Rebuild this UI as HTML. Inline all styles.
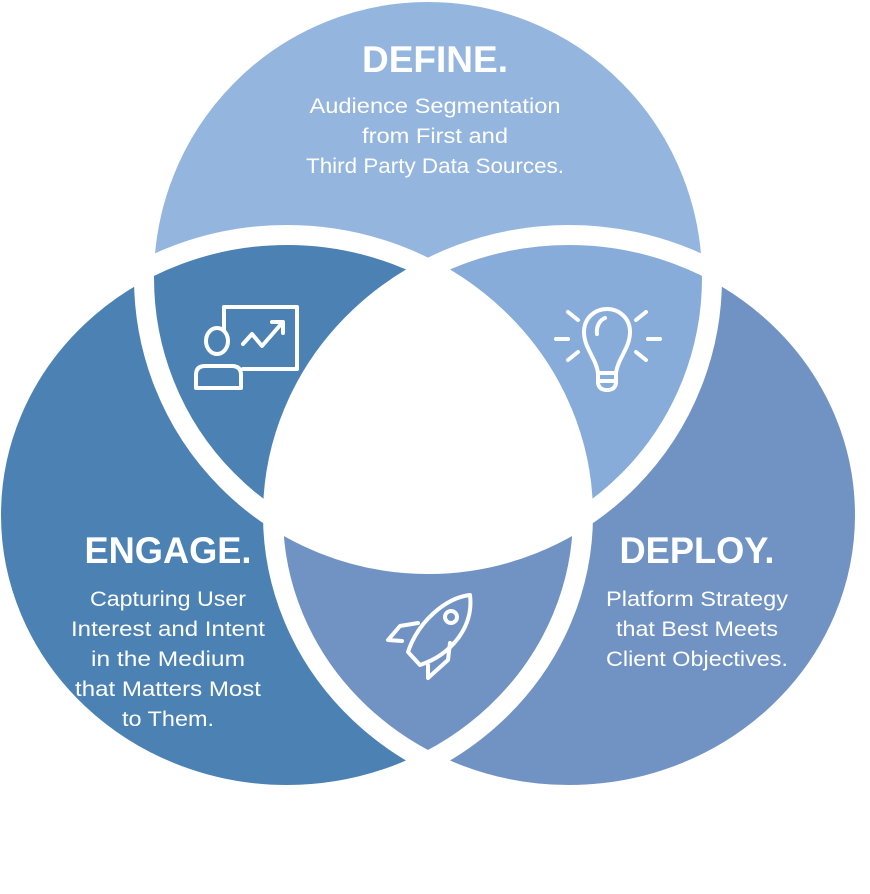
<!DOCTYPE html>
<html><head><meta charset="utf-8"><style>
html,body{margin:0;padding:0;background:#fff;}
svg{display:block;}
text{font-family:"Liberation Sans",sans-serif;fill:#fff;}
</style></head><body>
<svg width="870" height="894" viewBox="0 0 870 894" xmlns="http://www.w3.org/2000/svg">
<defs>
<clipPath id="cT"><ellipse cx="428" cy="278" rx="284" ry="286"/></clipPath>
<clipPath id="cL"><ellipse cx="287" cy="515" rx="296" ry="280"/></clipPath>
<clipPath id="cR"><ellipse cx="569" cy="515" rx="296" ry="280"/></clipPath>
</defs>
<ellipse cx="428" cy="278" rx="284" ry="286" fill="#94b6de"/>
<ellipse cx="287" cy="515" rx="296" ry="280" fill="#4b82b3"/>
<ellipse cx="569" cy="515" rx="296" ry="280" fill="#7193c3"/>
<g clip-path="url(#cT)"><ellipse cx="569" cy="515" rx="296" ry="280" fill="#88acd9"/></g>
<g clip-path="url(#cL)"><g clip-path="url(#cR)"><ellipse cx="428" cy="278" rx="284" ry="286" fill="#fff"/></g></g>
<g fill="none" stroke="#fff" stroke-width="20">
<ellipse cx="428" cy="278" rx="284" ry="286"/>
<ellipse cx="287" cy="515" rx="296" ry="280"/>
<ellipse cx="569" cy="515" rx="296" ry="280"/>
</g>

<text x="435" y="72" font-size="37" font-weight="bold" text-anchor="middle" textLength="146" lengthAdjust="spacingAndGlyphs">DEFINE.</text>
<g font-size="21" text-anchor="middle">
<text x="435" y="113" textLength="251" lengthAdjust="spacingAndGlyphs">Audience Segmentation</text>
<text x="435" y="143" textLength="146" lengthAdjust="spacingAndGlyphs">from First and</text>
<text x="435" y="173" textLength="258" lengthAdjust="spacingAndGlyphs">Third Party Data Sources.</text>
</g>

<text x="168" y="563" font-size="37" font-weight="bold" text-anchor="middle" textLength="167" lengthAdjust="spacingAndGlyphs">ENGAGE.</text>
<g font-size="21" text-anchor="middle">
<text x="168" y="606" textLength="156" lengthAdjust="spacingAndGlyphs">Capturing User</text>
<text x="168" y="636" textLength="194" lengthAdjust="spacingAndGlyphs">Interest and Intent</text>
<text x="168" y="666" textLength="154" lengthAdjust="spacingAndGlyphs">in the Medium</text>
<text x="168" y="696" textLength="186" lengthAdjust="spacingAndGlyphs">that Matters Most</text>
<text x="168" y="726" textLength="92" lengthAdjust="spacingAndGlyphs">to Them.</text>
</g>

<text x="697" y="563" font-size="37" font-weight="bold" text-anchor="middle" textLength="155" lengthAdjust="spacingAndGlyphs">DEPLOY.</text>
<g font-size="21" text-anchor="middle">
<text x="697" y="606" textLength="182" lengthAdjust="spacingAndGlyphs">Platform Strategy</text>
<text x="697" y="636" textLength="162" lengthAdjust="spacingAndGlyphs">that Best Meets</text>
<text x="697" y="666" textLength="182" lengthAdjust="spacingAndGlyphs">Client Objectives.</text>
</g>

<!-- presentation icon -->
<g fill="none" stroke="#fff" stroke-width="4" stroke-linejoin="round" stroke-linecap="round">
<path d="M224 330 V307 H297 V369 H243"/>
<ellipse cx="217" cy="341" rx="11" ry="13"/>
<path d="M196 388 V375 Q196 366 205 366 H232 Q241 366 241 375 V388 Z"/>
<path d="M243 344 L252 334 L262 346 L282 323"/>
<path d="M272 322 H283 V333"/>
</g>
<!-- lightbulb -->
<g fill="none" stroke="#fff" stroke-width="4" stroke-linejoin="round" stroke-linecap="round">
<path d="M598 373 C596 358 584 348 584 332 C584 318 595 309 607 309 C619 309 630 318 630 332 C630 348 618 358 616 373 Z"/>
<path d="M598 373 V383 Q599 390 607 390 Q615 390 616 383 V373"/>
<path d="M599 381 H615"/>
<path d="M597 334 C596 326 600 320 605 318"/>
<path d="M556 339 H568 M648 339 H660 M568 312 L578 320 M646 312 L636 320 M568 360 L578 352 M646 360 L636 352"/>
</g>
<!-- rocket -->
<g fill="none" stroke="#fff" stroke-width="4" stroke-linejoin="round" stroke-linecap="round">
<path d="M470 595 C445 598 418 622 408 652 L420 665 C450 655 474 628 470 595 Z"/>
<circle cx="451" cy="617" r="6"/>
<path d="M418 623 L400 626 L388 640 L402 641"/>
<path d="M450 643 L448 660 L428 678 L428 665"/>
</g>
</svg>
</body></html>
